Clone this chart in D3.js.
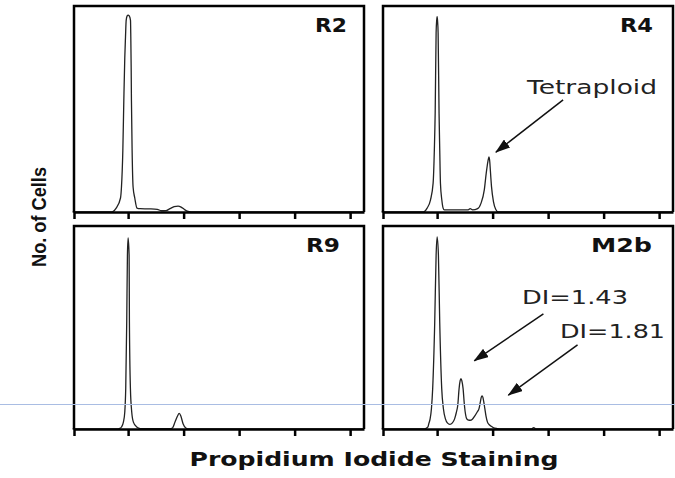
<!DOCTYPE html>
<html>
<head>
<meta charset="utf-8">
<script src="https://cdn.jsdelivr.net/npm/d3@7"></script>
<style>
  html, body { margin: 0; padding: 0; background: #fff; }
  svg { display: block; }
</style>
</head>
<body>
<svg id="chart" width="675" height="478"></svg>
<script>
// DNA content histograms: [PI channel, cell count as % of panel height]
const r2Hist = [[0,0],[140,0],[145,0.2],[157,1.9],[172.6,6.8],[176,12],[181,30],[184.5,54],[188,75],[190.6,85],[193,93],[196.5,95.2],[200,95.6],[204,95.2],[208.6,93],[209.7,85],[211,70],[212,54],[214.4,30],[218,12],[224,6.8],[232,1.9],[243,1.6],[276,1.5],[305,1.3],[319,0.6],[337,0.7],[351,1.6],[366,2.6],[380,2.9],[391,2.4],[402,1.3],[413,0.4],[427,0],[1050,0]];
const r4Hist = [[0,0],[150,0],[154,0.2],[164,1.9],[176,5.8],[185.6,14],[190,30],[193,48],[196.4,87],[198.5,93],[200,94.8],[201.5,93],[203.6,87],[207,48],[209.5,30],[212,14],[217,5.8],[221.6,1.9],[226,1],[260,1],[312,1],[319,1.6],[328,1],[346,1.6],[358,4.2],[370,10.7],[377,18.9],[383,24.5],[387,26.8],[390,24],[391,22],[396,12.3],[403,5],[411,1.3],[420,0],[1050,0]];
const r9Hist = [[0,0],[160,0],[170,0.3],[176,1],[183,3.4],[188,8.4],[191.4,19.9],[195,52.7],[197.5,85.6],[200,94.1],[203.6,85.6],[204.7,52.7],[208.3,19.9],[213,8.4],[219,3.4],[231,1],[244,0.2],[354,0.2],[360,0.5],[369,3.4],[378,6.4],[384,7.7],[390,6.4],[398,2.6],[408,0.5],[418,0],[1050,0]];
const m2bHist = [[0,0],[155,0],[160,0.3],[167,1],[170,2.6],[174.8,5],[179.5,10],[184,19.9],[191.4,52.7],[196.4,85.6],[200,94.6],[204.7,85.6],[209.4,52.7],[216.6,19.9],[222.7,10],[230,5],[237,3],[246,2.3],[255,3],[263,5],[269,8],[274.4,11.7],[279.2,19.9],[283,23.8],[286,24.8],[289,23.8],[293.6,19.9],[298.4,11.7],[306.8,5],[313,4.4],[319,4.3],[327,4.8],[336,6.5],[345,8.5],[351,10],[356,13.5],[359,15.6],[362,16.3],[365,15.6],[368,13.5],[372,10],[376,6.5],[381.5,3.4],[387,2.2],[393.5,1.5],[402,0.7],[417,0.2],[430,0],[540,0],[548,0.7],[556,0],[1050,0]];

const panelNames = ["R2", "R4", "R9", "M2b"];
const tickValues = [200, 400, 600, 800, 1000];
const diValues = [1.43, 1.81];
const axisTitles = ["Propidium Iodide Staining", "No. of Cells"];

// ---- layout ----
const svg = d3.select("#chart");
const colLeft = [74, 383], panelW = 290;
const rowTop = [6, 226], rowAxis = [212, 429];
const xDomain = [5, 1050];

const panels = [
  { name: panelNames[0], data: r2Hist,  col: 0, row: 0, labelX: 347, labelLen: 32 },
  { name: panelNames[1], data: r4Hist,  col: 1, row: 0, labelX: 653, labelLen: 33 },
  { name: panelNames[2], data: r9Hist,  col: 0, row: 1, labelX: 340, labelLen: 34 },
  { name: panelNames[3], data: m2bHist, col: 1, row: 1, labelX: 652, labelLen: 61 }
];

// arrowhead
svg.append("defs").append("marker")
  .attr("id", "arrowhead")
  .attr("markerUnits", "userSpaceOnUse")
  .attr("viewBox", "0 0 15 10")
  .attr("markerWidth", 15).attr("markerHeight", 10)
  .attr("refX", 14).attr("refY", 5)
  .attr("orient", "auto")
  .append("path").attr("d", "M0,0L15,5L0,10Z").attr("fill", "#111");

const scales = {};

panels.forEach(p => {
  const left = colLeft[p.col], top = rowTop[p.row], bottom = rowAxis[p.row];
  const x = d3.scaleLinear().domain(xDomain).range([left, left + panelW]);
  const y = d3.scaleLinear().domain([0, 100]).range([bottom, top]);
  scales[p.name] = { x, y };
  const g = svg.append("g").attr("class", "panel");

  // histogram trace
  g.append("path")
    .datum(p.data)
    .attr("fill", "none")
    .attr("stroke", "#222")
    .attr("stroke-width", 1.3)
    .attr("stroke-linejoin", "round")
    .attr("d", d3.line().x(d => x(d[0])).y(d => y(d[1])).curve(d3.curveMonotoneX));

  // frame: left, top and right sides
  const [x0, x1] = x.range();
  const [yb, yt] = y.range();
  g.append("path")
    .attr("d", `M${x0},${yb}V${yt}H${x1}V${yb}`)
    .attr("fill", "none")
    .attr("stroke", "#000")
    .attr("stroke-width", 2.5);

  // bottom axis with outward ticks, no labels
  const ax = g.append("g")
    .attr("transform", `translate(0,${yb})`)
    .call(d3.axisBottom(x)
      .tickValues([xDomain[0]].concat(tickValues))
      .tickSize(7)
      .tickSizeOuter(0)
      .tickFormat(""));
  ax.select(".domain").attr("stroke", "#000").attr("stroke-width", 2.5);
  ax.selectAll(".tick line").attr("stroke", "#000").attr("stroke-width", 2.5);

  // panel name
  g.append("text")
    .attr("x", p.labelX)
    .attr("y", top + 26)
    .attr("text-anchor", "end")
    .attr("font-family", "DejaVu Sans, sans-serif")
    .attr("font-weight", "bold")
    .attr("font-size", 19.5)
    .attr("textLength", p.labelLen)
    .attr("lengthAdjust", "spacingAndGlyphs")
    .attr("fill", "#111")
    .text(p.name);
});

// annotations with arrows (positions in channel / % units of the panel)
function annotate(panel, label, textAt, len, from, to) {
  const { x, y } = scales[panel];
  svg.append("text")
    .attr("x", x(textAt[0]))
    .attr("y", y(textAt[1]))
    .attr("font-family", "DejaVu Sans, sans-serif")
    .attr("font-size", 19)
    .attr("textLength", len)
    .attr("lengthAdjust", "spacingAndGlyphs")
    .attr("fill", "#222")
    .text(label);
  svg.append("line")
    .attr("x1", x(from[0])).attr("y1", y(from[1]))
    .attr("x2", x(to[0])).attr("y2", y(to[1]))
    .attr("stroke", "#111")
    .attr("stroke-width", 1.5)
    .attr("marker-end", "url(#arrowhead)");
}

annotate("R4", "Tetraploid", [524, 57.3], 130, [654, 54.4], [412, 29.1]);
annotate("M2b", `DI=${diValues[0].toFixed(2)}`, [506, 61.4], 106, [583, 56.7], [334, 33.6]);
annotate("M2b", `DI=${diValues[1].toFixed(2)}`, [643, 44.8], 105, [706, 41.4], [457, 16.7]);

// thin horizontal guide line across the lower row
svg.append("line")
  .attr("x1", 0).attr("x2", 675)
  .attr("y1", 404.5).attr("y2", 404.5)
  .attr("stroke", "#a9bde3")
  .attr("stroke-width", 1);

// axis titles
svg.append("text")
  .attr("x", 374).attr("y", 466)
  .attr("text-anchor", "middle")
  .attr("font-family", "DejaVu Sans, sans-serif")
  .attr("font-weight", "bold")
  .attr("font-size", 19)
  .attr("textLength", 369)
  .attr("lengthAdjust", "spacingAndGlyphs")
  .attr("fill", "#111")
  .text(axisTitles[0]);

svg.append("text")
  .attr("transform", "translate(46,217) rotate(-90)")
  .attr("text-anchor", "middle")
  .attr("font-family", "Liberation Sans, Arial, sans-serif")
  .attr("font-weight", "bold")
  .attr("font-size", 20)
  .attr("textLength", 100)
  .attr("lengthAdjust", "spacingAndGlyphs")
  .attr("fill", "#111")
  .text(axisTitles[1]);
</script>
</body>
</html>
